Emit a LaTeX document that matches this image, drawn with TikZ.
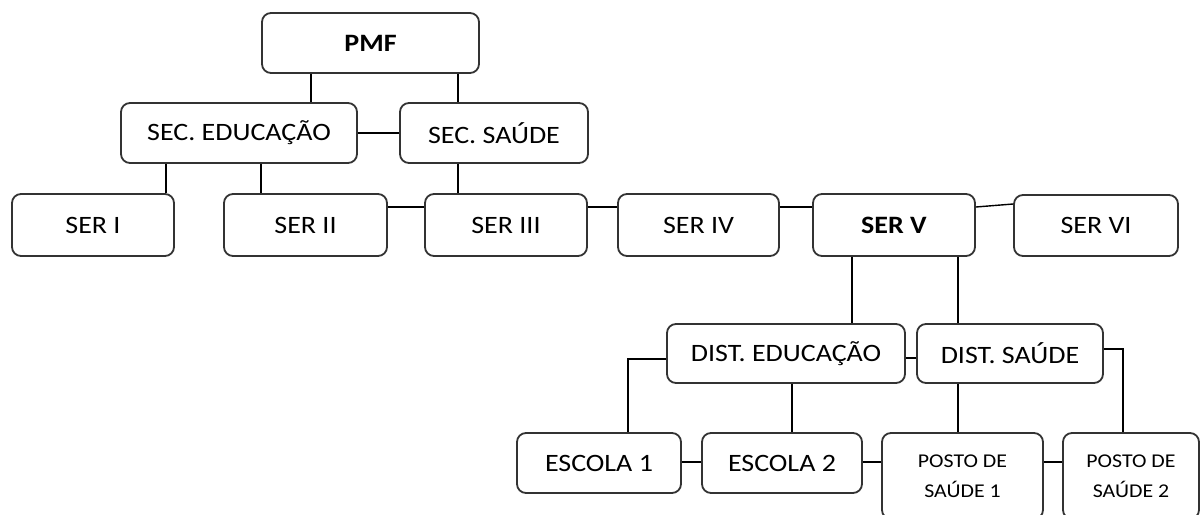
\documentclass[tikz,border=0pt]{standalone}
\usepackage{fontspec}
\setmainfont{Carlito}[FakeStretch=1.12]

\begin{document}
\begin{tikzpicture}[
    x=1pt, y=-1pt,
    line width=1.4pt,
    every node/.style = {
      shape=rectangle,
      rounded corners=9pt,
      draw=black!80,
      line width=1.8pt,
      align=center,
      inner sep=0pt,
      minimum height=60pt,
      font=\fontsize{25}{30}\selectfont
    },
    small/.style = {font=\fontsize{19.5}{30}\selectfont}
  ]
  \useasboundingbox (0,0) rectangle (1202,514);
  \clip (0,0) rectangle (1202,514);

  \node[minimum width=217pt] (pmf) at (370.5,43) {\textbf{PMF}};
  \node[minimum width=236pt] (secedu) at (239,133) {SEC. EDUCAÇÃO};
  \node[minimum width=188pt] (secsaude) at (494,133) {SEC. SAÚDE};

  \node[minimum width=162pt, minimum height=62pt] (ser1) at (93,225) {SER I};
  \node[minimum width=163pt, minimum height=62pt] (ser2) at (305.5,225) {SER II};
  \node[minimum width=162pt, minimum height=62pt] (ser3) at (506,225) {SER III};
  \node[minimum width=161pt, minimum height=62pt] (ser4) at (698.5,225) {SER IV};
  \node[minimum width=162pt, minimum height=62pt] (ser5) at (894,225) {\textbf{SER V}};
  \node[minimum width=164pt, minimum height=61pt] (ser6) at (1096,225.5) {SER VI};

  \node[minimum width=238pt, minimum height=59pt] (distedu) at (786,353.5) {DIST. EDUCAÇÃO};
  \node[minimum width=186pt, minimum height=59pt] (distsaude) at (1010,353.5) {DIST. SAÚDE};

  \node[minimum width=164pt] (escola1) at (599,463) {ESCOLA 1};
  \node[minimum width=160pt] (escola2) at (782,463) {ESCOLA 2};
  \node[small, minimum width=161pt, minimum height=86pt] (posto1) at (962.5,476) {POSTO DE\\SAÚDE 1};
  \node[small, minimum width=136pt, minimum height=86pt] (posto2) at (1131,476) {POSTO DE\\SAÚDE 2};

  \draw (311,0 |- pmf.south) -- (311,0 |- secedu.north);
  \draw (458,0 |- pmf.south) -- (458,0 |- secsaude.north);
  \draw (secedu) -- (secsaude);

  \draw (166,0 |- secedu.south) -- (166,0 |- ser1.north);
  \draw (261,0 |- secedu.south) -- (261,0 |- ser2.north);
  \draw (458,0 |- secsaude.south) -- (458,0 |- ser3.north);
  \foreach \a/\b in {ser2/ser3, ser3/ser4, ser4/ser5}
    \draw (\a.east |- 0,207) -- (\b.west |- 0,207);
  \draw (ser5.east |- 0,207) -- (ser6.west |- 0,204);

  \draw (852,0 |- ser5.south) -- (852,0 |- distedu.north);
  \draw (958,0 |- ser5.south) -- (958,0 |- distsaude.north);
  \draw (distedu.east |- 0,358) -- (distsaude.west |- 0,358);

  \draw (distedu.west |- 0,359) -| (628,0 |- escola1.north);
  \draw (792,0 |- distedu.south) -- (792,0 |- escola2.north);
  \draw (958,0 |- distsaude.south) -- (958,0 |- posto1.north);
  \draw (distsaude.east |- 0,349) -| (1123,0 |- posto2.north);
  \foreach \a/\b in {escola1/escola2, escola2/posto1, posto1/posto2}
    \draw (\a.east |- 0,462) -- (\b.west |- 0,462);
\end{tikzpicture}
\end{document}
